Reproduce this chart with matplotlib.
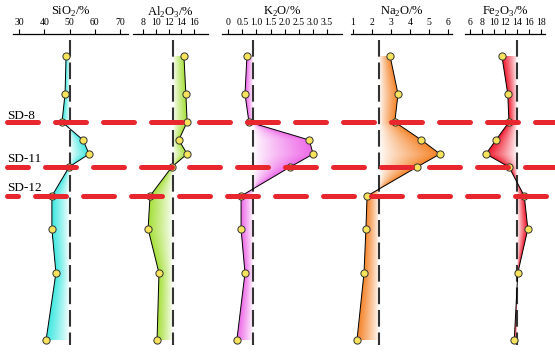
import numpy as np
import matplotlib
matplotlib.use("Agg")
from matplotlib import pyplot as plt
from matplotlib.patches import Polygon
from matplotlib.colors import to_rgb

plt.rcParams['font.family'] = ['Liberation Serif', 'DejaVu Serif']
plt.rcParams['mathtext.fontset'] = 'custom'
plt.rcParams['mathtext.rm'] = 'Liberation Serif'

# sample positions (down-profile, relative units) and oxide contents
depth = [22, 60, 88, 106, 120, 133, 162, 195, 239, 306]
sio2 = [48.6, 48.2, 47.0, 55.3, 57.7, 49.8, 43.0, 43.0, 44.6, 40.7]
al2o3 = [14.4, 14.7, 14.9, 13.6, 14.9, 12.5, 9.1, 8.8, 10.5, 10.2]
k2o = [0.66, 0.59, 0.73, 2.88, 3.02, 2.20, 0.45, 0.45, 0.59, 0.30]
na2o = [2.95, 3.37, 3.20, 4.60, 5.58, 4.37, 1.74, 1.68, 1.58, 1.21]
fe2o3 = [11.4, 12.4, 12.6, 10.4, 8.7, 12.6, 15.2, 15.8, 14.1, 13.5]

# reference (average) values, dashed black lines
refs = [50.0, 12.7, 0.88, 2.37, 14.0]

titles = [r'SiO$_\mathrm{2}$/%', r'Al$_\mathrm{2}$O$_\mathrm{3}$/%', r'K$_\mathrm{2}$O/%',
          r'Na$_\mathrm{2}$O/%', r'Fe$_\mathrm{2}$O$_\mathrm{3}$/%']
ticks = [[30, 40, 50, 60, 70],
         [8, 10, 12, 14, 16],
         [0, 0.5, 1.0, 1.5, 2.0, 2.5, 3.0, 3.5],
         [1, 2, 3, 4, 5, 6],
         [6, 8, 10, 12, 14, 16, 18]]
ticklabels = [['30', '40', '50', '60', '70'],
              ['8', '10', '12', '14', '16'],
              ['0', '0.5', '1.0', '1.5', '2.0', '2.5', '3.0', '3.5'],
              ['1', '2', '3', '4', '5', '6'],
              ['6', '8', '10', '12', '14', '16', '18']]
colors = ['#3ee8e0', '#a6e03a', '#ee6ae8', '#f5842a', '#f0182c']

sd_names = ['SD-8', 'SD-11', 'SD-12']
sd_depth = [88, 133, 162]

series = [sio2, al2o3, k2o, na2o, fe2o3]

W, H = 555, 354
top_px = 34
ymax = 320
top_frac = 1 - top_px / H

# axes layout (pixels) and x ranges
px_ext = [(13, 128), (133, 208), (222, 342), (351, 452), (465, 545)]
xlims = [(27.63, 73.08), (6.44, 18.16), (-0.23, 4.05), (0.895, 6.21), (5.15, 18.71)]

fig = plt.figure(figsize=(W / 100, H / 100), dpi=100)

for i in range(5):
    x0p, x1p = px_ext[i]
    ax = fig.add_axes([x0p / W, 0, (x1p - x0p) / W, top_frac])
    ax.patch.set_alpha(0)
    vals = np.array(series[i])
    ref = refs[i]
    xa, xb = xlims[i]

    # gradient fill between curve and reference line
    yy = np.linspace(0, ymax, 500)
    xx = np.linspace(xa, xb, 300)
    X, Y = np.meshgrid(xx, yy)
    C = np.interp(yy, depth, vals)[:, None]
    den = np.where(np.abs(C - ref) < 1e-9, 1e-9, C - ref)
    t = np.clip((X - ref) / den, 0, 1) ** 0.85
    rgb = np.array(to_rgb(colors[i]))
    img = 1 - t[..., None] * (1 - rgb)
    im = ax.imshow(img, extent=(xa, xb, ymax, 0), origin='upper', aspect='auto',
                   interpolation='bilinear', zorder=1)
    verts = list(zip(vals, depth)) + [(ref, depth[-1]), (ref, depth[0])]
    poly = Polygon(verts, closed=True, facecolor='none', edgecolor='none',
                   transform=ax.transData)
    ax.add_patch(poly)
    im.set_clip_path(poly)

    ax.plot([ref, ref], [6, 311], color='#333333', lw=1.5,
            ls=(0, (8, 2.8)), zorder=2)
    ax.plot(vals, depth, color='black', lw=0.7, zorder=3)
    ax.plot(vals, depth, 'o', ms=5.2, mfc='#f7e45c', mec='#333333', mew=0.7, zorder=4)

    ax.set_xlim(xa, xb)
    ax.set_ylim(ymax, 0)
    ax.xaxis.tick_top()
    ax.set_xticks(ticks[i])
    ax.set_xticklabels(ticklabels[i])
    ax.tick_params(axis='x', direction='out', length=3.5, width=0.8, pad=1.2,
                   labelsize=7)
    ax.set_yticks([])
    for s in ['left', 'right', 'bottom']:
        ax.spines[s].set_visible(False)
    ax.spines['top'].set_linewidth(0.9)
    fig.text((x0p + x1p) / 2 / W, 1 - 12 / H, titles[i], ha='center', va='center',
             fontsize=9)

# red sample lines across all panels
ov = fig.add_axes([0, 0, 1, top_frac])
ov.patch.set_alpha(0)
ov.set_xlim(0, W)
ov.set_ylim(ymax, 0)
ov.axis('off')
offsets = [0, 2, 4]
for d, off in zip(sd_depth, offsets):
    ov.plot([7, W], [d, d], color='#e8262e', lw=3.6, ls=(off, (6.2, 3.4)),
            dash_capstyle='round', zorder=5)

label_y = [116, 159, 188]
for name, ly in zip(sd_names, label_y):
    fig.text(7 / W, 1 - ly / H, name, fontsize=9.5, va='center', ha='left')

fig.savefig('out.png', dpi=100)
